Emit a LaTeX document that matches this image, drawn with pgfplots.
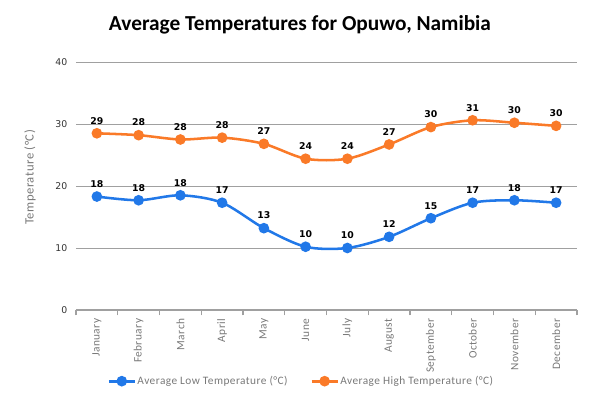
\documentclass[border=0pt]{standalone}
\usepackage{pgfplots}
\pgfplotsset{compat=1.18}
\usepackage{fontspec}
\setmainfont{Carlito}
\newfontfamily\dv{DejaVu Sans}
\newfontfamily\cs[LetterSpace=4]{Carlito}
\definecolor{lowc}{RGB}{33,120,232}
\definecolor{highc}{RGB}{250,122,40}
\definecolor{gridc}{RGB}{160,160,160}
\definecolor{labc}{RGB}{120,120,120}
\begin{document}
\begin{tikzpicture}[x=1pt,y=1pt]
\begin{axis}[
  at={(0,0)}, anchor=south west,
  scale only axis,
  width=375.75pt, height=186pt,
  xmin=-0.5, xmax=11.5, ymin=0, ymax=40,
  ytick={0,10,20,30,40},
  xtick={0,...,11},
  xticklabels={January,February,March,April,May,June,July,August,September,October,November,December},
  minor xtick={-0.5,0.5,...,11.5},
  major tick length=0pt,
  minor tick length=4pt,
  tick align=outside,
  ymajorgrids,
  grid style={gridc, line width=0.7pt},
  axis y line*=left,
  y axis line style={draw=none},
  axis x line*=bottom,
  x axis line style={gridc, line width=0.8pt, -},
  minor tick style={gridc, line width=0.8pt},
  ytick style={draw=none},
  /pgf/number format/assume math mode=true,
  yticklabel style={font=\dv\fontsize{7}{8}\selectfont, text=black!80, xshift=-3pt},
  xticklabel style={font=\cs\fontsize{8.5}{9}\selectfont, text=labc, rotate=90, anchor=east, xshift=-3pt},
  ylabel={Temperature (°C)},
  every axis y label/.style={at={(ticklabel cs:0.535)}, rotate=90, anchor=south, yshift=8pt, font=\cs\fontsize{9.5}{11}\selectfont, text=labc},
  clip=false,
  legend style={at={(0.449,-0.287)}, anchor=center, draw=none, fill=none,
    legend columns=2, font=\cs\fontsize{8.5}{9}\selectfont, text=labc,
    nodes={inner xsep=1pt},
    /tikz/every even column/.append style={column sep=16pt}},
  legend image code/.code={\draw[#1, line width=2pt] (0pt,0pt) -- (19.5pt,0pt); \fill[#1] (9.75pt,0pt) circle (3pt);},
  nodes near coords,
  point meta=explicit symbolic,
  every node near coord/.append style={font=\dv\bfseries\fontsize{7}{8}\selectfont, text=black, anchor=south, yshift=2.5pt},
]
\addplot[lowc, line width=1.9pt, smooth, tension=0.5, mark=*, mark size=3pt, mark options={fill=lowc, draw=lowc}]
  table[meta=l] {
x y l
0 18.3 18
1 17.7 18
2 18.5 18
3 17.3 17
4 13.2 13
5 10.2 10
6 10.0 10
7 11.8 12
8 14.8 15
9 17.3 17
10 17.7 18
11 17.3 17
};
\addlegendentry{Average Low Temperature (°C)}
\addplot[highc, line width=1.9pt, smooth, tension=0.5, mark=*, mark size=3pt, mark options={fill=highc, draw=highc}]
  table[meta=l] {
x y l
0 28.5 29
1 28.2 28
2 27.5 28
3 27.8 28
4 26.8 27
5 24.4 24
6 24.4 24
7 26.7 27
8 29.5 30
9 30.6 31
10 30.2 30
11 29.7 30
};
\addlegendentry{Average High Temperature (°C)}
\end{axis}
\node[font=\bfseries\fontsize{16}{19}\selectfont] at (168pt,214pt) {Average Temperatures for Opuwo, Namibia};
\pgfresetboundingbox
\path[use as bounding box] (-57pt,-66.75pt) rectangle (393pt,232.5pt);
\end{tikzpicture}
\end{document}
